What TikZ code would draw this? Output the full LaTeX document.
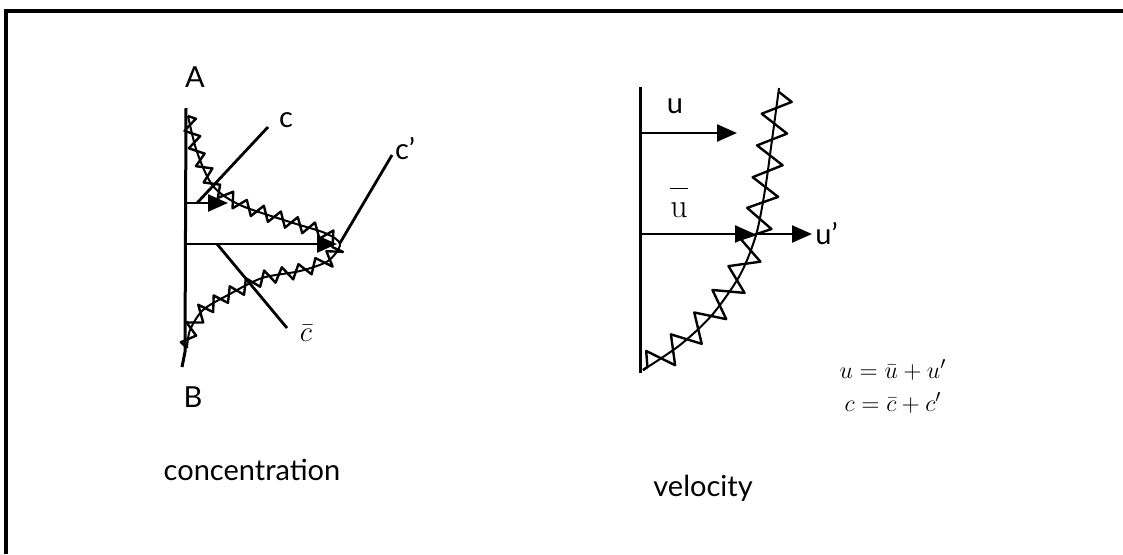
\documentclass[tikz,border=0pt]{standalone}
\usepackage{fontspec}
\setsansfont{Lato}
\usepackage{amsmath}
\usetikzlibrary{arrows.meta,decorations.pathmorphing}

\begin{document}
\begin{tikzpicture}[x=0.5pt,y=-0.5pt,
    axis/.style={line width=1.5pt},
    flow/.style={line width=1.2pt,-{Triangle[length=10pt,width=8.5pt]}},
    lead/.style={line width=1.4pt},
    jag/.style={line width=1.2pt,line join=round,decorate,
      decoration={zigzag,segment length=#1}},
    lbl/.style={font=\sffamily\fontsize{14.5}{16}\selectfont,inner sep=0pt},
    eq/.style={font=\fontsize{12.5}{14}\selectfont,inner sep=0pt,anchor=base}]
  \useasboundingbox (0,0) rectangle (1123,554);
  \draw[line width=2pt] (6,554) -- (6,11) -- (1123,11);

  % concentration profile
  \coordinate (ctop) at (186,108);
  \coordinate (cbot) at (185,352);
  \coordinate (cin) at (187,203);
  \coordinate (cmid) at (187,244);
  \coordinate (cout) at (228,203);
  \coordinate (cpeak) at (337,244);
  \draw[axis] (ctop) -- (cbot) .. controls (184,360) .. (182,367);
  \draw[line width=1pt] plot[smooth] coordinates {(188,116) (197,152) (213,186) (240,205)
    (290,222) (325,233) (340,244) (328,261) (300,271) (262,278) (228,295) (203,310) (190,330) (187,348)};
  \draw[jag=9pt,decoration={amplitude=3.5pt}] (188,116) -- (197,152) -- (213,186) -- (240,205)
    -- (290,222) -- (325,233) -- (340,244) -- (328,261) -- (300,271) -- (262,278) -- (228,295)
    -- (203,310) -- (190,330) -- (187,348);
  \draw[flow] (cin) -- (cout);
  \draw[flow] (cmid) -- (cpeak);

  \node[lbl] (la) at (195,77) {A};
  \node[lbl] (lb) at (193,397) {B};
  \node[lbl] (lc) at (286,120) {c};
  \node[lbl] (lcp) at (405,149) {c'};
  \node[font=\fontsize{15}{16}\selectfont,inner sep=0pt] (lcbar) at (306,333) {$\bar{c}$};
  \coordinate (c1) at (268,127);
  \coordinate (c2) at (197,203);
  \coordinate (c3) at (392,155);
  \coordinate (c4) at (340,243);
  \coordinate (c5) at (217,244);
  \coordinate (c6) at (287,328);
  \draw[lead] (c1) -- (c2);
  \draw[lead] (c3) -- (c4);
  \draw[lead] (c5) -- (c6);

  % velocity profile
  \coordinate (vtop) at (640,87);
  \coordinate (vbot) at (640,373);
  \coordinate (vin) at (640,133);
  \coordinate (vmid) at (640,234);
  \coordinate (vout) at (737,133);
  \coordinate (vmean) at (755,234);
  \coordinate (vturb) at (812,234);
  \draw[axis] (vtop) -- (vbot);
  \draw[line width=1pt] plot[smooth] coordinates {(779,88) (772,140) (765,190) (756,235)
    (740,275) (712,315) (680,345) (643,370)};
  \draw[jag=16pt,decoration={amplitude=7pt}] (779,92) -- (772,140) -- (765,190) -- (756,235)
    -- (740,275) -- (712,315) -- (680,345) -- (643,370);
  \draw[flow] (vin) -- (vout);
  \draw[flow] (vmid) -- (vmean);
  \draw[flow] (vmean) -- (vturb);

  \node[lbl] (lu) at (675,106) {u};
  \node[font=\fontsize{17}{18}\selectfont,inner sep=0pt,anchor=base] (lubar) at (679,217)
    {$\overline{\mathrm{u}\vphantom{\mathrm{l}}}$};
  \node[lbl,anchor=west] (lup) at (815,234) {u'};

  \node[eq] (equ) at (893,378) {$u=\bar{u}+u'$};
  \node[eq] (eqc) at (893,411) {$c=\bar{c}+c'$};

  \node[lbl] (lconc) at (252,470) {concentration};
  \node[lbl] (lvel) at (703,488) {velocity};
\end{tikzpicture}
\end{document}
